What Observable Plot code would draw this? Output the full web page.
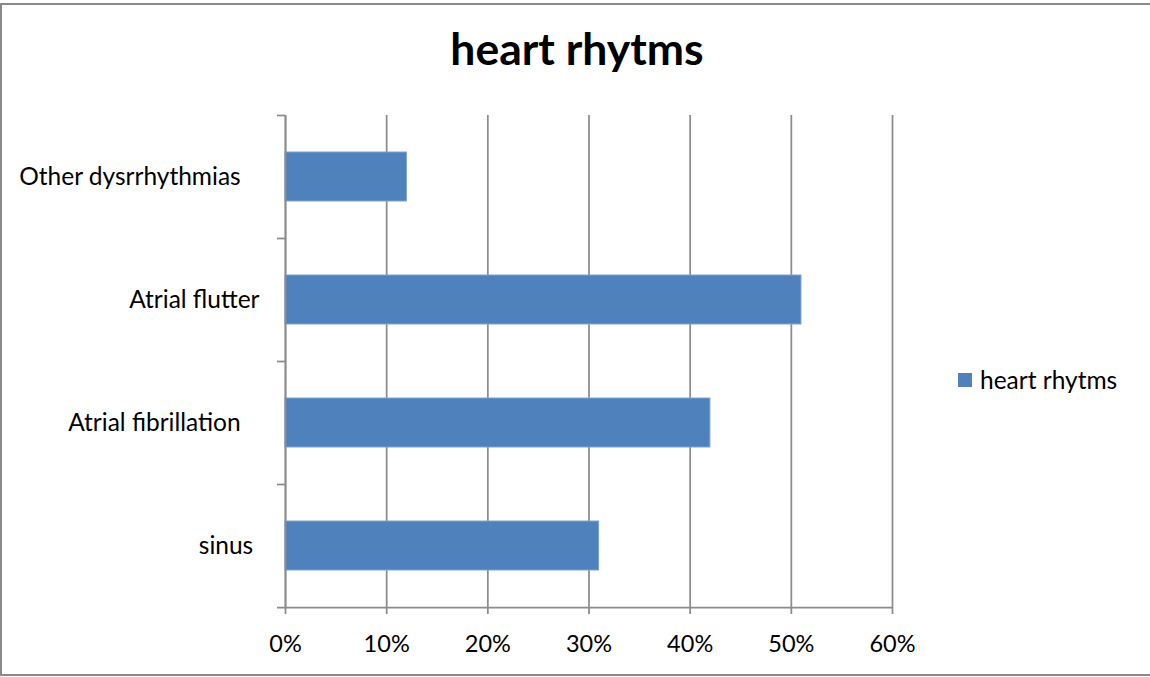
<!DOCTYPE html>
<html>
<head>
<meta charset="utf-8">
<script src="https://cdn.jsdelivr.net/npm/d3@7"></script>
<script src="https://cdn.jsdelivr.net/npm/@observablehq/plot@0.6"></script>
<style>
  html, body { margin: 0; padding: 0; background: #fff; }
  #chart { position: relative; width: 1150px; height: 677px; overflow: hidden; font-family: Lato, "Open Sans", sans-serif; color: #000; }
  #frame { position: absolute; left: 0; top: 3px; width: 1170px; height: 673px; border: 2px solid #8a8a8a; box-sizing: border-box; }
  #title { position: absolute; left: 0; top: 21px; width: 1154px; text-align: center; font-weight: bold; font-size: 44.5px; line-height: 54px; }
  #legend { position: absolute; left: 958px; top: 366px; display: flex; align-items: center; font-size: 24.5px; line-height: 28px; }
  #legend .swatch { width: 14px; height: 14px; background: #4f81bd; margin-right: 8px; }
  #plot { position: absolute; left: 0; top: 0; }
</style>
</head>
<body>
<div id="chart">
  <div id="frame"></div>
  <div id="plot"></div>
  <div id="title"></div>
  <div id="legend"><div class="swatch"></div><span id="legend-label"></span></div>
</div>
<script>
// Share of heart rhythms, listed top to bottom as they appear on the chart
const categories = ["Other dysrrhythmias\u00A0\u00A0\u00A0", "Atrial flutter", "Atrial fibrillation\u00A0\u00A0\u00A0", "sinus\u00A0"];
const values = [12, 51, 42, 31];
const xTicks = [0, 10, 20, 30, 40, 50, 60];
const seriesName = "heart rhytms";
const chartTitle = "heart rhytms";

const W = 1150, H = 677;
const mTop = 115, mBottom = 70, mLeft = 285, mRight = 258;
const step = (H - mTop - mBottom) / categories.length;
const gray = "#8c8c8c";
const barColor = "#4f81bd";
// length of the small outer ticks, in x units (10% spans ~101px)
const tickOut = -8 / ((W - mLeft - mRight) / 60);

const rows = categories.map((c, i) => ({ category: c, value: values[i] }));

const chart = Plot.plot({
  width: W,
  height: H,
  marginTop: mTop,
  marginBottom: mBottom,
  marginLeft: mLeft,
  marginRight: mRight,
  style: { fontFamily: "Lato, 'Open Sans', sans-serif", fontSize: "24px", color: "#000", background: "transparent", whiteSpace: "pre" },
  x: { domain: [0, 60] },
  y: { domain: categories, paddingInner: 0.6, paddingOuter: 0.3 },
  marks: [
    // vertical gridlines
    Plot.ruleX(xTicks, { x: d => d, stroke: gray, strokeWidth: 1.75 }),
    // bars
    Plot.barX(rows, { x: "value", y: "category", fill: barColor, stroke: "#7ea3cf", strokeWidth: 1 }),
    // category axis line
    Plot.ruleX([0], { stroke: gray, strokeWidth: 1.75 }),
    // category boundary ticks
    Plot.ruleY(categories, { y: d => d, x1: tickOut, x2: 0, dy: -step / 2, stroke: gray, strokeWidth: 1.75 }),
    // value axis line (with its outer tick at the bottom-left)
    Plot.ruleY([categories[categories.length - 1]], { y: d => d, x1: tickOut, x2: 60, dy: step / 2, stroke: gray, strokeWidth: 1.75 }),
    Plot.axisX({
      ticks: xTicks,
      tickFormat: d => d + "%",
      tickSize: 7,
      tickPadding: 20.5,
      stroke: gray,
      strokeWidth: 1.75,
      strokeOpacity: 1,
      fill: "#000",
      fontSize: 23.5,
      label: null
    }),
    Plot.axisY({
      tickSize: 0,
      tickPadding: 26,
      fill: "#000",
      fontSize: 24.5,
      label: null
    })
  ]
});

document.getElementById("plot").appendChild(chart);
document.getElementById("title").textContent = chartTitle;
document.getElementById("legend-label").textContent = seriesName;
</script>
</body>
</html>
